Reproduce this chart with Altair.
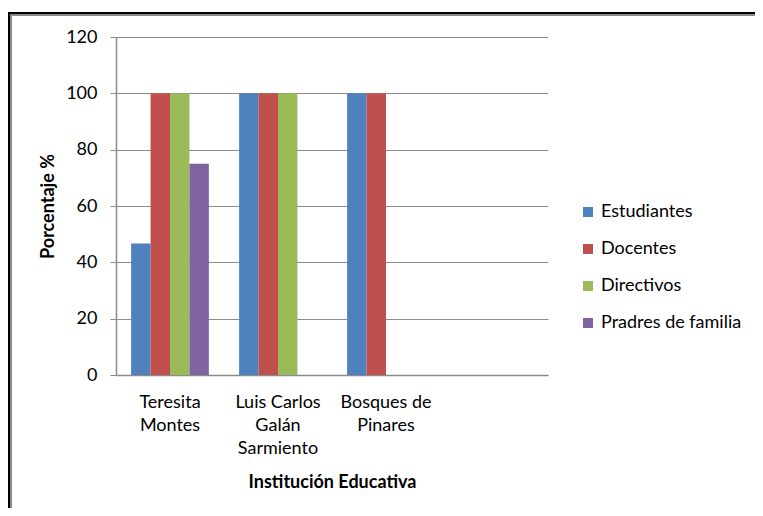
import altair as alt
import pandas as pd

# ---- data ----
categories = ["Teresita Montes", "Luis Carlos Galán Sarmiento", "Bosques  de Pinares", " "]
category_lines = {
    "Teresita Montes": ["Teresita", "Montes"],
    "Luis Carlos Galán Sarmiento": ["Luis Carlos", "Galán", "Sarmiento"],
    "Bosques  de Pinares": ["Bosques  de", "Pinares"],
    " ": [""],
}
series = ["Estudiantes", "Docentes", "Directivos", "Pradres de familia"]
colors = ["#4F81BD", "#C0504D", "#9BBB59", "#8064A2"]

estudiantes = [46.7, 100, 100, None]
docentes = [100, 100, 100, None]
directivos = [100, 100, None, None]
padres = [75, None, None, None]

y_ticks = [0, 20, 40, 60, 80, 100, 120]

rows = []
for s, vals in zip(series, [estudiantes, docentes, directivos, padres]):
    for c, v in zip(categories, vals):
        if v is not None:
            rows.append({"Institución": c, "Grupo": s, "Porcentaje": v})
df = pd.DataFrame(rows)

# label expression for multi-line category labels
parts = []
for c, lines in category_lines.items():
    arr = "[" + ",".join("'" + l + "'" for l in lines) + "]"
    parts.append(f"datum.value == '{c}' ? {arr}")
label_expr = " : ".join(parts) + " : datum.label"

FONT = "Lato"
FS = 18

bars = alt.Chart(df).mark_bar().encode(
    x=alt.X(
        "Institución:N",
        scale=alt.Scale(domain=categories, paddingInner=0.28, paddingOuter=0.14),
        sort=categories,
        axis=alt.Axis(
            title="Institución Educativa",
            labelExpr=label_expr,
            labelAngle=0,
            labelFontSize=FS,
            labelFontWeight="normal",
            labelLineHeight=23,
            labelPadding=18,
            labelColor="#000000",
            labelFont=FONT,
            ticks=False,
            domainColor="#8c8c8c",
            domainWidth=1.5,
            grid=False,
            titleFont=FONT,
            titleFontSize=FS,
            titleFontWeight="bold",
            titleColor="#000000",
            titlePadding=16,
        ),
    ),
    xOffset=alt.XOffset("Grupo:N", scale=alt.Scale(domain=series, paddingInner=0, paddingOuter=0), sort=series),
    y=alt.Y(
        "Porcentaje:Q",
        scale=alt.Scale(domain=[0, 120], nice=False),
        axis=alt.Axis(
            title="Porcentaje %",
            values=y_ticks,
            labelFontSize=FS,
            labelFont=FONT,
            labelColor="#000000",
            labelPadding=13,
            tickSize=6,
            tickColor="#8c8c8c",
            domainColor="#8c8c8c",
            domainWidth=1.5,
            gridColor="#8c8c8c",
            gridWidth=1,
            titleFont=FONT,
            titleFontSize=FS,
            titleFontWeight="bold",
            titleColor="#000000",
            titlePadding=8,
        ),
    ),
    color=alt.Color(
        "Grupo:N",
        scale=alt.Scale(domain=series, range=colors),
        sort=series,
        legend=alt.Legend(
            title=None,
            orient="none",
            legendX=463,
            legendY=166,
            symbolType="square",
            symbolSize=100,
            symbolStrokeWidth=0,
            labelFont=FONT,
            labelFontSize=FS,
            labelColor="#000000",
            labelOffset=4,
            rowPadding=19,
            padding=0,
        ),
    ),
)

frame_df = pd.DataFrame({"k": [0]})
top_black = alt.Chart(frame_df).mark_rule(color="#000000", strokeWidth=2).encode(
    x=alt.value(-108), x2=alt.value(700), y=alt.value(-24)
)
top_gray = alt.Chart(frame_df).mark_rule(color="#8a8a8a", strokeWidth=2).encode(
    x=alt.value(-106), x2=alt.value(700), y=alt.value(-22)
)
left_black = alt.Chart(frame_df).mark_rule(color="#000000", strokeWidth=2).encode(
    x=alt.value(-107), y=alt.value(-25), y2=alt.value(500)
)
left_gray = alt.Chart(frame_df).mark_rule(color="#8a8a8a", strokeWidth=2).encode(
    x=alt.value(-105), y=alt.value(-23), y2=alt.value(500)
)

chart = alt.layer(bars, top_black, top_gray, left_black, left_gray).properties(
    width=432,
    height=338,
    autosize="none",
    padding={"left": 108, "top": 29, "right": 207, "bottom": 133},
    background="#ffffff",
).configure_view(stroke=None)

chart.save("out.html", embed_options={"renderer": "svg", "actions": False})
